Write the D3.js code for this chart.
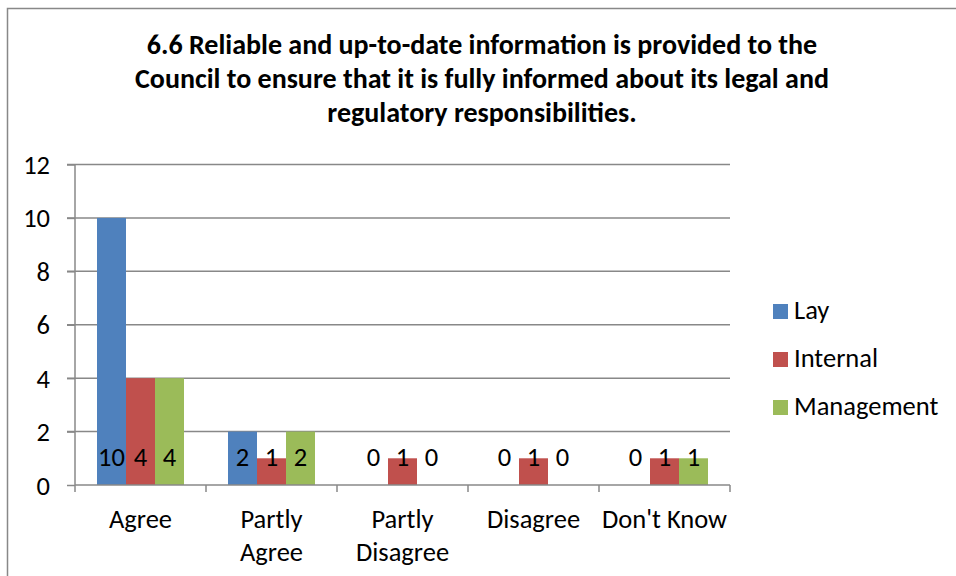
<!DOCTYPE html>
<html>
<head>
<meta charset="utf-8">
<script src="https://cdn.jsdelivr.net/npm/d3@7"></script>
<style>
  body { margin: 0; background: #fff; }
  text { font-family: Carlito, Lato, "Open Sans", sans-serif; fill: #000; }
</style>
</head>
<body>
<div id="chart"></div>
<script>
var categories = [["Agree"], ["Partly", "Agree"], ["Partly", "Disagree"], ["Disagree"], ["Don't Know"]];
var seriesNames = ["Lay", "Internal", "Management"];
var lay = [10, 2, 0, 0, 0];
var internal = [4, 1, 1, 1, 1];
var management = [4, 2, 0, 0, 1];
var yTicks = [0, 2, 4, 6, 8, 10, 12];
var titleLines = [
  "6.6 Reliable and up-to-date information is provided to the",
  "Council to ensure that it is fully informed about its legal and",
  "regulatory responsibilities."
];
var colors = ["#4F81BD", "#C0504D", "#9BBB59"];

var series = [lay, internal, management];

var svg = d3.select("#chart").append("svg")
  .attr("width", 956)
  .attr("height", 576);

// cadre exterieur
svg.append("rect")
  .attr("x", 7.5).attr("y", 8.5)
  .attr("width", 960).attr("height", 580)
  .attr("fill", "none")
  .attr("stroke", "#888")
  .attr("stroke-width", 1.5);

// titre
svg.append("g").selectAll("text")
  .data(titleLines)
  .enter()
  .append("text")
  .attr("x", 482)
  .attr("y", function(d, i) { return 54 + i * 34; })
  .attr("text-anchor", "middle")
  .style("font-size", "28px")
  .style("font-weight", "bold")
  .text(function(d) { return d; });

var plotLeft = 75, plotRight = 730, plotTop = 164.5, plotBottom = 485;
var labelSize = "26.5px";

var x = d3.scaleBand()
  .domain(categories.map(function(d) { return d.join(" "); }))
  .range([plotLeft, plotRight]);

var x1 = d3.scaleBand()
  .domain(seriesNames)
  .range([0, 87]);

var y = d3.scaleLinear().domain([0, 12]).range([plotBottom, plotTop]);

// grille
svg.append("g").selectAll("line")
  .data(yTicks.slice(1))
  .enter()
  .append("line")
  .attr("x1", 67).attr("x2", plotRight)
  .attr("y1", function(d) { return y(d); })
  .attr("y2", function(d) { return y(d); })
  .attr("stroke", "#888")
  .attr("stroke-width", 1.5);

// axe y
var yAxis = svg.append("g")
  .attr("transform", "translate(" + plotLeft + ",0)")
  .call(d3.axisLeft(y).tickValues(yTicks).tickSize(8).tickPadding(17));
yAxis.select(".domain").attr("stroke", "#888").attr("stroke-width", 1.5)
  .attr("d", "M0," + plotTop + "V" + plotBottom);
yAxis.selectAll(".tick line").attr("stroke", "#888").attr("stroke-width", 1.5);
yAxis.selectAll(".tick text")
  .attr("dy", "0.34em")
  .style("font-size", labelSize)
  .style("font-family", "Carlito, Lato, 'Open Sans', sans-serif")
  .attr("fill", "#000");

// barres
var groups = svg.append("g").selectAll("g")
  .data(categories)
  .enter()
  .append("g")
  .attr("transform", function(d) { return "translate(" + (x(d.join(" ")) + (x.bandwidth() - 87) / 2) + ",0)"; });

groups.each(function(cat, ci) {
  var g = d3.select(this);
  var vals = seriesNames.map(function(s, si) { return { name: s, value: series[si][ci], color: colors[si] }; });
  g.selectAll("rect")
    .data(vals)
    .enter()
    .append("rect")
    .attr("x", function(d) { return x1(d.name); })
    .attr("width", x1.bandwidth())
    .attr("y", function(d) { return y(d.value); })
    .attr("height", function(d) { return plotBottom - y(d.value); })
    .attr("fill", function(d) { return d.color; });
  g.selectAll("text")
    .data(vals)
    .enter()
    .append("text")
    .attr("x", function(d) { return x1(d.name) + x1.bandwidth() / 2; })
    .attr("y", 466)
    .attr("text-anchor", "middle")
    .style("font-size", labelSize)
    .text(function(d) { return d.value; });
});

// axe x
svg.append("line")
  .attr("x1", plotLeft).attr("x2", plotRight)
  .attr("y1", plotBottom).attr("y2", plotBottom)
  .attr("stroke", "#888")
  .attr("stroke-width", 1.5);
svg.append("g").selectAll("line")
  .data(d3.range(categories.length + 1))
  .enter()
  .append("line")
  .attr("x1", function(i) { return plotLeft + i * x.step(); })
  .attr("x2", function(i) { return plotLeft + i * x.step(); })
  .attr("y1", plotBottom).attr("y2", plotBottom + 7)
  .attr("stroke", "#888")
  .attr("stroke-width", 1.5);

// etiquettes des categories
svg.append("g").selectAll("text")
  .data(categories)
  .enter()
  .append("text")
  .attr("x", function(d) { return x(d.join(" ")) + x.bandwidth() / 2; })
  .attr("y", 528)
  .attr("text-anchor", "middle")
  .style("font-size", labelSize)
  .each(function(d) {
    var t = d3.select(this);
    d.forEach(function(line, i) {
      t.append("tspan")
        .attr("x", t.attr("x"))
        .attr("dy", i === 0 ? 0 : 33)
        .text(line);
    });
  });

// legende
var legend = svg.append("g").selectAll("g")
  .data(seriesNames)
  .enter()
  .append("g")
  .attr("transform", function(d, i) { return "translate(773," + (304 + i * 48) + ")"; });
legend.append("rect")
  .attr("width", 15).attr("height", 15)
  .attr("fill", function(d, i) { return colors[i]; });
legend.append("text")
  .attr("x", 21).attr("y", 15)
  .style("font-size", labelSize)
  .text(function(d) { return d; });
</script>
</body>
</html>
